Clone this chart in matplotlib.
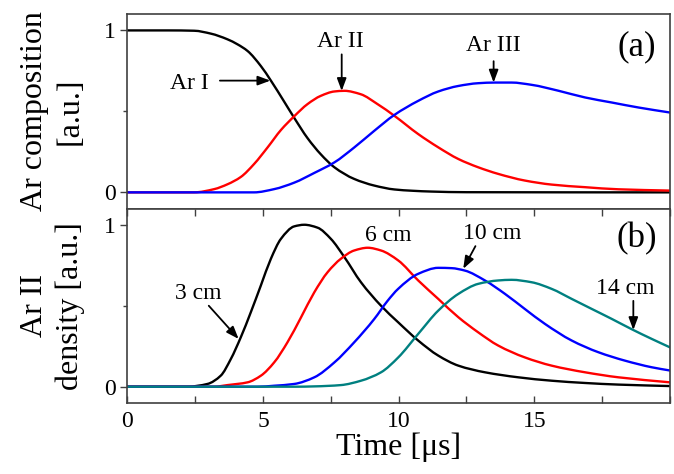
import numpy as np
import matplotlib
matplotlib.use('Agg')
import matplotlib.pyplot as plt
from matplotlib.path import Path
from matplotlib.patches import PathPatch
from matplotlib.ticker import MultipleLocator

plt.rcParams['font.family'] = ['Liberation Serif', 'DejaVu Serif']

# (a) Ar composition (time in us)
t_ar1 = [0, 1.5, 2.46, 3.08, 3.69, 4.06, 4.43, 4.92, 5.29, 5.78, 6.15, 6.64, 7.13,
         7.63, 8.36, 9.1, 9.84, 10.5, 11.2, 12.5, 20]
ar1 = [1.0, 1.0, 0.998, 0.98, 0.945, 0.914, 0.873, 0.78, 0.69, 0.56, 0.46, 0.335,
       0.235, 0.155, 0.083, 0.042, 0.018, 0.01, 0.005, 0.001, 0]

t_ar2 = [0, 2.46, 3.2, 3.69, 4.18, 4.67, 5.17, 5.66, 6.15, 6.64, 7.13, 7.63, 8.0,
         8.6, 9.22, 9.84, 10.72, 11.46, 12.2, 12.93, 13.67, 14.65, 15.64, 16.87, 18.1, 20]
ar2 = [0, 0, 0.02, 0.05, 0.095, 0.175, 0.278, 0.385, 0.47, 0.545, 0.596, 0.623,
       0.627, 0.606, 0.545, 0.473, 0.36, 0.278, 0.206, 0.155, 0.114, 0.073, 0.048,
       0.032, 0.019, 0.011]

t_ar3 = [0, 4.67, 5.41, 6.15, 6.89, 7.63, 8.36, 9.1, 9.84, 10.72, 11.46, 12.2, 12.93,
         13.55, 14.16, 14.9, 15.9, 16.87, 17.85, 18.84, 20]
ar3 = [0, 0, 0.02, 0.06, 0.12, 0.185, 0.277, 0.38, 0.478, 0.565, 0.623, 0.657, 0.674,
       0.678, 0.678, 0.664, 0.627, 0.586, 0.555, 0.524, 0.493]

# (b) Ar II density at 3, 6, 10 and 14 cm
t_d3 = [0, 2.21, 2.95, 3.44, 3.81, 4.18, 4.55, 4.92, 5.29, 5.66, 6.15, 6.52, 7.01,
        7.5, 8.0, 8.61, 9.35, 9.98, 10.72, 11.46, 12.2, 13.18, 14.41, 15.64, 16.87, 18.1, 20]
d3 = [0, 0, 0.017, 0.068, 0.17, 0.305, 0.46, 0.625, 0.79, 0.913, 0.99, 1.0, 0.982,
      0.913, 0.8, 0.645, 0.5, 0.398, 0.285, 0.192, 0.13, 0.089, 0.058, 0.037, 0.023,
      0.013, 0.004]

t_d6 = [0, 3.2, 3.69, 4.43, 4.92, 5.41, 5.9, 6.4, 6.89, 7.38, 7.87, 8.36, 8.86, 9.35,
        9.98, 10.72, 11.46, 12.2, 12.93, 13.67, 14.65, 15.64, 16.87, 18.1, 20]
d6 = [0, 0, 0.01, 0.027, 0.068, 0.15, 0.274, 0.428, 0.583, 0.707, 0.79, 0.841, 0.858,
      0.841, 0.78, 0.656, 0.542, 0.429, 0.336, 0.254, 0.181, 0.13, 0.089, 0.058, 0.027]

t_d10 = [0, 4.8, 5.41, 6.15, 6.89, 7.63, 8.36, 9.1, 9.59, 9.98, 10.72, 11.46, 11.95,
         12.44, 13.18, 13.92, 14.65, 15.39, 16.38, 17.36, 18.34, 19.33, 20]
d10 = [0, 0, 0.006, 0.017, 0.058, 0.15, 0.274, 0.418, 0.53, 0.604, 0.697, 0.734, 0.732,
       0.717, 0.656, 0.573, 0.48, 0.388, 0.285, 0.213, 0.161, 0.12, 0.1]

t_d14 = [0, 6.2, 6.89, 7.87, 8.61, 9.35, 9.98, 10.72, 11.46, 12.2, 12.93, 13.67, 14.16,
         14.9, 15.64, 16.38, 17.12, 17.85, 18.59, 19.33, 20]
d14 = [0, 0, 0.002, 0.01, 0.037, 0.089, 0.18, 0.326, 0.47, 0.573, 0.635, 0.656, 0.66,
       0.645, 0.604, 0.542, 0.48, 0.419, 0.355, 0.295, 0.243]


def smooth_line(ax, x, y, color, lw=1.7):
    """Draw a line through the points as cubic Bezier segments (monotone tangents)"""
    x = np.asarray(x, float)
    y = np.asarray(y, float)
    h = np.diff(x)
    d = np.diff(y) / h
    m = np.empty_like(y)
    m[0], m[-1] = d[0], d[-1]
    for i in range(1, len(x) - 1):
        if d[i - 1] * d[i] <= 0:
            m[i] = 0.0
        else:
            w1 = 2 * h[i] + h[i - 1]
            w2 = h[i] + 2 * h[i - 1]
            m[i] = (w1 + w2) / (w1 / d[i - 1] + w2 / d[i])
    verts = [(x[0], y[0])]
    codes = [Path.MOVETO]
    for i in range(len(x) - 1):
        verts += [(x[i] + h[i] / 3, y[i] + m[i] * h[i] / 3),
                  (x[i + 1] - h[i] / 3, y[i + 1] - m[i + 1] * h[i] / 3),
                  (x[i + 1], y[i + 1])]
        codes += [Path.CURVE4] * 3
    ax.add_patch(PathPatch(Path(verts, codes), facecolor='none', edgecolor=color,
                           lw=lw, capstyle='round', joinstyle='round'))


fig, (ax1, ax2) = plt.subplots(2, 1, sharex=True, figsize=(6.74, 4.74), dpi=100)
fig.subplots_adjust(left=0.189, right=0.994, top=0.970, bottom=0.150, hspace=0)

smooth_line(ax1, t_ar1, ar1, 'black')
smooth_line(ax1, t_ar2, ar2, 'red')
smooth_line(ax1, t_ar3, ar3, 'blue')

smooth_line(ax2, t_d3, d3, 'black')
smooth_line(ax2, t_d6, d6, 'red')
smooth_line(ax2, t_d10, d10, 'blue')
smooth_line(ax2, t_d14, d14, '#008080')

arrow = dict(arrowstyle='-|>,head_length=0.75,head_width=0.28', color='black',
             lw=1.3, shrinkA=0, shrinkB=0)
fs_ann = 17

# panel (a) labels
ax1.text(2.3, 0.675, 'Ar I', fontsize=fs_ann, ha='center', va='center')
ax1.annotate('', xy=(5.27, 0.69), xytext=(3.41, 0.69), arrowprops=arrow)
ax1.text(7.84, 0.93, 'Ar II', fontsize=fs_ann, ha='center', va='center')
ax1.annotate('', xy=(7.9, 0.626), xytext=(7.9, 0.852), arrowprops=arrow)
ax1.text(13.48, 0.905, 'Ar III', fontsize=fs_ann, ha='center', va='center')
ax1.annotate('', xy=(13.5, 0.678), xytext=(13.5, 0.81), arrowprops=arrow)
ax1.text(18.77, 0.90, '(a)', fontsize=25, ha='center', va='center')

# panel (b) labels
ax2.text(2.63, 0.573, '3 cm', fontsize=fs_ann, ha='center', va='center')
ax2.annotate('', xy=(4.1, 0.295), xytext=(3.0, 0.50), arrowprops=arrow)
ax2.text(9.6, 0.935, '6 cm', fontsize=fs_ann, ha='center', va='center')
ax2.text(13.45, 0.944, '10 cm', fontsize=fs_ann, ha='center', va='center')
ax2.annotate('', xy=(12.38, 0.728), xytext=(12.83, 0.868), arrowprops=arrow)
ax2.text(18.35, 0.604, '14 cm', fontsize=fs_ann, ha='center', va='center')
ax2.annotate('', xy=(18.65, 0.35), xytext=(18.65, 0.53), arrowprops=arrow)
ax2.text(18.77, 0.915, '(b)', fontsize=25, ha='center', va='center')

for ax in (ax1, ax2):
    ax.set_xlim(0, 20)
    ax.set_ylim(-0.1, 1.1)
    ax.set_yticks([0, 1])
    ax.yaxis.set_minor_locator(MultipleLocator(0.5))
    ax.tick_params(axis='y', which='both', direction='out', labelsize=17,
                   right=False, length=5, width=1, color='#404040')
    ax.tick_params(axis='y', which='minor', length=3)
    for s in ax.spines.values():
        s.set_color('#404040')
        s.set_linewidth(1.2)
    ax.yaxis.set_label_coords(-0.078, 0.5)

ax1.tick_params(axis='x', which='both', bottom=False, top=False)
ax2.xaxis.set_minor_locator(MultipleLocator(2.5))
ax2.set_xticks([0, 5, 10, 15])
ax2.tick_params(axis='x', which='both', direction='in', top=True, bottom=True,
                labelsize=17, length=5, width=1, color='#404040', pad=6)

ax1.set_ylabel('Ar composition\n[a.u.]', fontsize=23, linespacing=1.3)
ax2.set_ylabel('Ar II\ndensity [a.u.]', fontsize=23, linespacing=1.3)
ax2.set_xlabel('Time [μs]', fontsize=23, labelpad=0)

fig.savefig('out.png', dpi=100)
